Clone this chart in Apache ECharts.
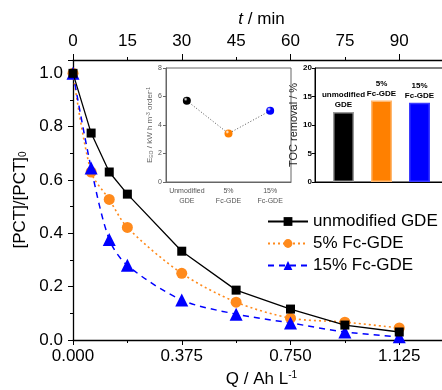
<!DOCTYPE html>
<html>
<head>
<meta charset="utf-8">
<script src="https://cdn.jsdelivr.net/npm/echarts@6/dist/echarts.min.js"></script>
<style>
  html, body { margin: 0; padding: 0; background: #fff; }
  #chart { width: 442px; height: 390px; }
</style>
</head>
<body>
<div id="chart"></div>
<script>
// main plot data (charge passed vs normalised concentration)
const qValues = [0, 0.0625, 0.125, 0.1875, 0.375, 0.5625, 0.75, 0.9375, 1.125];
const unmodified = [1.0, 0.776, 0.63, 0.547, 0.333, 0.187, 0.116, 0.056, 0.03];
const fc5 = [1.0, 0.63, 0.527, 0.422, 0.25, 0.142, 0.082, 0.067, 0.045];
const fc15 = [1.0, 0.645, 0.377, 0.28, 0.15, 0.097, 0.064, 0.03, 0.012];
const seriesNames = ['unmodified GDE', '5% Fc-GDE', '15% Fc-GDE'];

// inset 1: electrical energy per order
const eeoCats = ['Unmodified\nGDE', '5%\nFc-GDE', '15%\nFc-GDE'];
const eeo = [5.7, 3.4, 5.0];

// inset 2: TOC removal
const tocCats = ['unmodified\nGDE', '5%\nFc-GDE', '15%\nFc-GDE'];
const toc = [12.3, 14.3, 13.9];

const colors = ['#000000', '#ff8a1c', '#0000ff'];
const barColors = ['#000000', '#ff8000', '#0000ff'];
const font = 'Liberation Sans';

const pair = (ys) => ys.map((y, i) => [qValues[i], y]);
const ball = (c) => new echarts.graphic.RadialGradient(0.35, 0.3, 0.7, [
    {offset: 0, color: '#ffffff'},
    {offset: 0.35, color: c},
    {offset: 1, color: c}
]);

const myChart = echarts.init(document.getElementById('chart'), null, {renderer: 'canvas'});

myChart.setOption({
    animation: false,
    textStyle: {fontFamily: font},
    grid: [
        {left: 73, right: -8, top: 60, bottom: 50, outerBoundsMode: 'none', containLabel: false},
        {left: 166, right: 151, top: 68, bottom: 208, outerBoundsMode: 'none', show: true, borderColor: '#666', borderWidth: 1, backgroundColor: '#fff'},
        {left: 315, right: -6, top: 68, bottom: 208, outerBoundsMode: 'none', show: true, borderColor: '#000', borderWidth: 1, backgroundColor: '#fff'}
    ],
    legend: {
        data: seriesNames,
        orient: 'vertical',
        left: 262,
        top: 208,
        itemWidth: 40,
        itemHeight: 11,
        itemGap: 5,
        textStyle: {fontSize: 17, color: '#000', fontFamily: font}
    },
    xAxis: [
        {
            gridIndex: 0, type: 'value', position: 'bottom',
            min: 0, max: 1.3, interval: 0.375,
            name: 'Q / Ah L{sup|-1}', nameLocation: 'middle', nameGap: 28,
            nameTextStyle: {fontSize: 17, color: '#000', rich: {sup: {fontSize: 10, verticalAlign: 'top', padding: [0, 0, 8, 0]}}},
            axisLine: {show: true, lineStyle: {color: '#000', width: 1.3}},
            axisTick: {show: true, length: 5, lineStyle: {color: '#000'}},
            minorTick: {show: true, splitNumber: 2, length: 3, lineStyle: {color: '#000'}},
            splitLine: {show: false},
            axisLabel: {fontSize: 17, color: '#000', margin: 8, showMaxLabel: false, formatter: (v) => v.toFixed(3)}
        },
        {
            gridIndex: 0, type: 'value', position: 'top',
            min: 0, max: 104, interval: 15,
            name: '{i|t} / min', nameLocation: 'middle', nameGap: 32,
            nameTextStyle: {fontSize: 17, color: '#000', rich: {i: {fontSize: 17, fontStyle: 'italic'}}},
            axisLine: {show: true, lineStyle: {color: '#000', width: 1.3}},
            axisTick: {show: true, length: 3, lineStyle: {color: '#000'}},
            splitLine: {show: false},
            axisLabel: {fontSize: 17, color: '#000', margin: 10, showMaxLabel: false}
        },
        {
            gridIndex: 0, type: 'value', position: 'top',
            min: 0, max: 104, interval: 30,
            axisLine: {show: false},
            axisTick: {show: true, length: 6, lineStyle: {color: '#000'}},
            splitLine: {show: false},
            axisLabel: {show: false}
        },
        {
            gridIndex: 1, type: 'category', data: eeoCats,
            axisLine: {lineStyle: {color: '#666'}},
            axisTick: {inside: true, length: 2, lineStyle: {color: '#666'}},
            axisLabel: {fontSize: 7, color: '#555', margin: 4, lineHeight: 10, interval: 0, hideOverlap: false}
        },
        {
            gridIndex: 2, type: 'value', min: 0.25, max: 3.75,
            axisLine: {lineStyle: {color: '#000'}},
            axisTick: {show: false},
            axisLabel: {show: false},
            splitLine: {show: false}
        }
    ],
    yAxis: [
        {
            gridIndex: 0, type: 'value', min: 0, max: 1.05, interval: 0.2,
            name: '[PCT]/[PCT]{sub|0}', nameLocation: 'middle', nameGap: 44, nameRotate: 90,
            nameTextStyle: {fontSize: 17, color: '#000', rich: {sub: {fontSize: 10, verticalAlign: 'bottom', padding: [6, 0, 0, 0]}}},
            axisLine: {show: true, lineStyle: {color: '#000', width: 1.3}},
            axisTick: {show: true, length: 5, lineStyle: {color: '#000'}},
            minorTick: {show: true, splitNumber: 2, length: 3, lineStyle: {color: '#000'}},
            splitLine: {show: false},
            axisLabel: {fontSize: 17, color: '#000', margin: 10, showMaxLabel: false, formatter: (v) => v.toFixed(1)}
        },
        {
            gridIndex: 1, type: 'value', min: 0, max: 8, interval: 2,
            name: 'E{sub|EO} / kW h m{sup|-3} order{sup|-1}', nameLocation: 'middle', nameGap: 11, nameRotate: 90,
            nameTextStyle: {fontSize: 8, color: '#666', rich: {
                sub: {fontSize: 5, color: '#666', verticalAlign: 'bottom', padding: [3, 0, 0, 0]},
                sup: {fontSize: 5, color: '#666', verticalAlign: 'top', padding: [0, 0, 3, 0]}
            }},
            axisLine: {show: true, lineStyle: {color: '#666'}},
            axisTick: {show: true, length: 3, lineStyle: {color: '#666'}},
            splitLine: {show: false},
            axisLabel: {fontSize: 7, color: '#555', margin: 4}
        },
        {
            gridIndex: 2, type: 'value', min: 0, max: 20, interval: 5,
            name: 'TOC removal / %', nameLocation: 'middle', nameGap: 8, nameRotate: 90,
            nameTextStyle: {fontSize: 11, color: '#222'},
            axisLine: {show: true, lineStyle: {color: '#000'}},
            axisTick: {show: true, length: 3, lineStyle: {color: '#000'}},
            splitLine: {show: false},
            axisLabel: {fontSize: 8, fontWeight: 'bold', color: '#000', margin: 3}
        }
    ],
    series: [
        {
            name: seriesNames[0], type: 'line', xAxisIndex: 0, yAxisIndex: 0,
            data: pair(unmodified),
            symbol: 'rect', symbolSize: 9,
            itemStyle: {color: colors[0]},
            lineStyle: {color: colors[0], width: 1.3, type: 'solid'},
            z: 4
        },
        {
            name: seriesNames[1], type: 'line', xAxisIndex: 0, yAxisIndex: 0,
            data: pair(fc5),
            symbol: 'circle', symbolSize: 11, smooth: 0.3,
            itemStyle: {color: colors[1]},
            lineStyle: {color: colors[1], width: 1.6, type: [2, 3]},
            z: 3
        },
        {
            name: seriesNames[2], type: 'line', xAxisIndex: 0, yAxisIndex: 0,
            data: pair(fc15),
            symbol: 'triangle', symbolSize: 13, smooth: 0.3,
            itemStyle: {color: colors[2]},
            lineStyle: {color: colors[2], width: 1.5, type: [6, 5]},
            z: 3
        },
        {
            name: 'EEO', type: 'line', xAxisIndex: 3, yAxisIndex: 1,
            data: eeo.map((v, i) => ({value: v, itemStyle: {color: ball(barColors[i])}})),
            symbol: 'circle', symbolSize: 8,
            lineStyle: {color: '#555', width: 1, type: [1, 2]}
        },
        {
            name: 'TOC', type: 'bar', xAxisIndex: 4, yAxisIndex: 2,
            barWidth: 21,
            data: toc.map((v, i) => ({
                value: [i + 1, v],
                itemStyle: {color: barColors[i], borderColor: ['#999', '#ffb870', '#3b3bff'][i], borderWidth: 1.5},
                label: {formatter: tocCats[i]}
            })),
            label: {show: true, position: 'top', distance: 2, fontSize: 8, fontWeight: 'bold', color: '#000', lineHeight: 10, align: 'center'}
        }
    ]
});
</script>
</body>
</html>
